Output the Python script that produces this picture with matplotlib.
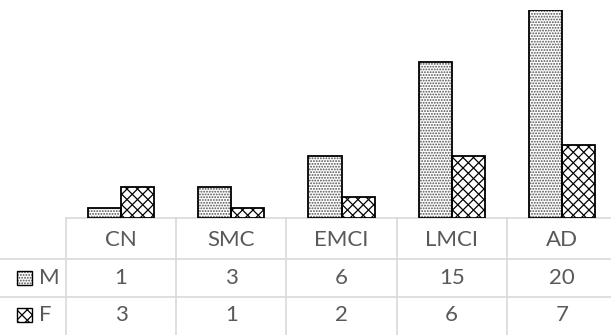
import matplotlib
matplotlib.use("Agg")
import numpy as np
import matplotlib.pyplot as plt
from matplotlib.patches import Rectangle
from matplotlib.collections import LineCollection

categories = ["CN", "SMC", "EMCI", "LMCI", "AD"]
series_names = ["M", "F"]
male = [1, 3, 6, 15, 20]
female = [3, 1, 2, 6, 7]

W, H = 611, 335
plt.rcParams["hatch.linewidth"] = 0.9
plt.rcParams["font.family"] = ["Lato", "DejaVu Sans"]

fig = plt.figure(figsize=(W / 100, H / 100), dpi=100)

# geometry in pixels
left, right = 66, 617
base, top = 218, 10
row_lines = [259, 297]
col_w = (right - left) / len(categories)

# pixel-space overlay for the data table (drawn below the bars)
tx = fig.add_axes([0, 0, 1, 1], zorder=0)
tx.set_xlim(0, W)
tx.set_ylim(H, 0)
tx.axis("off")

# bar area
ax = fig.add_axes([left / W, (H - base) / H, (right - left) / W, (base - top) / H],
                  zorder=1)
ax.set_xlim(-0.5, len(categories) - 0.5)
ax.set_ylim(0, 20)
ax.axis("off")
ax.patch.set_alpha(0)

dot_color = "#505050"


def cross_segments(spacing=10.5):
    segs = []
    for c in np.arange(-W - H, W + H, spacing):
        segs.append([(0, c), (W, c + W)])
        segs.append([(0, c + W), (W, c)])
    return segs


def crosshatch(target_ax, patch):
    lc = LineCollection(cross_segments(), colors="black", linewidths=0.9,
                        transform=tx.transData, zorder=2)
    target_ax.add_collection(lc, autolim=False)
    lc.set_clip_path(patch)


bw = 0.3
xs = np.arange(len(categories))
# M: dotted fill, then a black outline
ax.bar(xs - bw / 2, male, width=bw, edgecolor=dot_color, linewidth=0,
       facecolor="white", hatch="......", zorder=1)
ax.bar(xs - bw / 2, male, width=bw, edgecolor="black", linewidth=1.3,
       fill=False, zorder=3)
# F: cross-hatched fill, then a black outline
f_bars = ax.bar(xs + bw / 2, female, width=bw, edgecolor="none",
                facecolor="white", zorder=1)
for p in f_bars:
    crosshatch(ax, p)
ax.bar(xs + bw / 2, female, width=bw, edgecolor="black", linewidth=1.3,
       fill=False, zorder=3)

grid = "#d9d9d9"
lw = 1.2
tx.plot([left, W], [base, base], color=grid, lw=lw)
for y in row_lines:
    tx.plot([0, W], [y, y], color=grid, lw=lw)
for i in range(len(categories)):
    x = left + i * col_w
    tx.plot([x, x], [base, H], color=grid, lw=lw)

txt = "#595959"
fs = 16
hdr_y = (base + row_lines[0]) / 2 + 1
row_ys = [(row_lines[0] + row_lines[1]) / 2 - 0.5, (row_lines[1] + H) / 2 - 1]
for i, c in enumerate(categories):
    cx = left + (i + 0.5) * col_w
    tx.text(cx, hdr_y, c, ha="center", va="center", fontsize=fs, color=txt)
    tx.text(cx, row_ys[0], str(male[i]), ha="center", va="center", fontsize=fs, color=txt)
    tx.text(cx, row_ys[1], str(female[i]), ha="center", va="center", fontsize=fs, color=txt)

# series keys
tx.add_patch(Rectangle((17, row_ys[0] - 7), 15, 14, facecolor="white",
                       edgecolor=dot_color, linewidth=0, hatch="......", zorder=1))
tx.add_patch(Rectangle((17, row_ys[0] - 7), 15, 14, fill=False,
                       edgecolor="black", linewidth=1.0, zorder=3))
key_f_bg = Rectangle((17, row_ys[1] - 7), 15, 14, facecolor="white",
                     edgecolor="none", zorder=1)
tx.add_patch(key_f_bg)
crosshatch(tx, key_f_bg)
tx.add_patch(Rectangle((17, row_ys[1] - 7), 15, 14, fill=False,
                       edgecolor="black", linewidth=1.0, zorder=3))
for name, y in zip(series_names, row_ys):
    tx.text(39, y, name, ha="left", va="center", fontsize=fs, color=txt)

fig.savefig("out.png", dpi=100)
